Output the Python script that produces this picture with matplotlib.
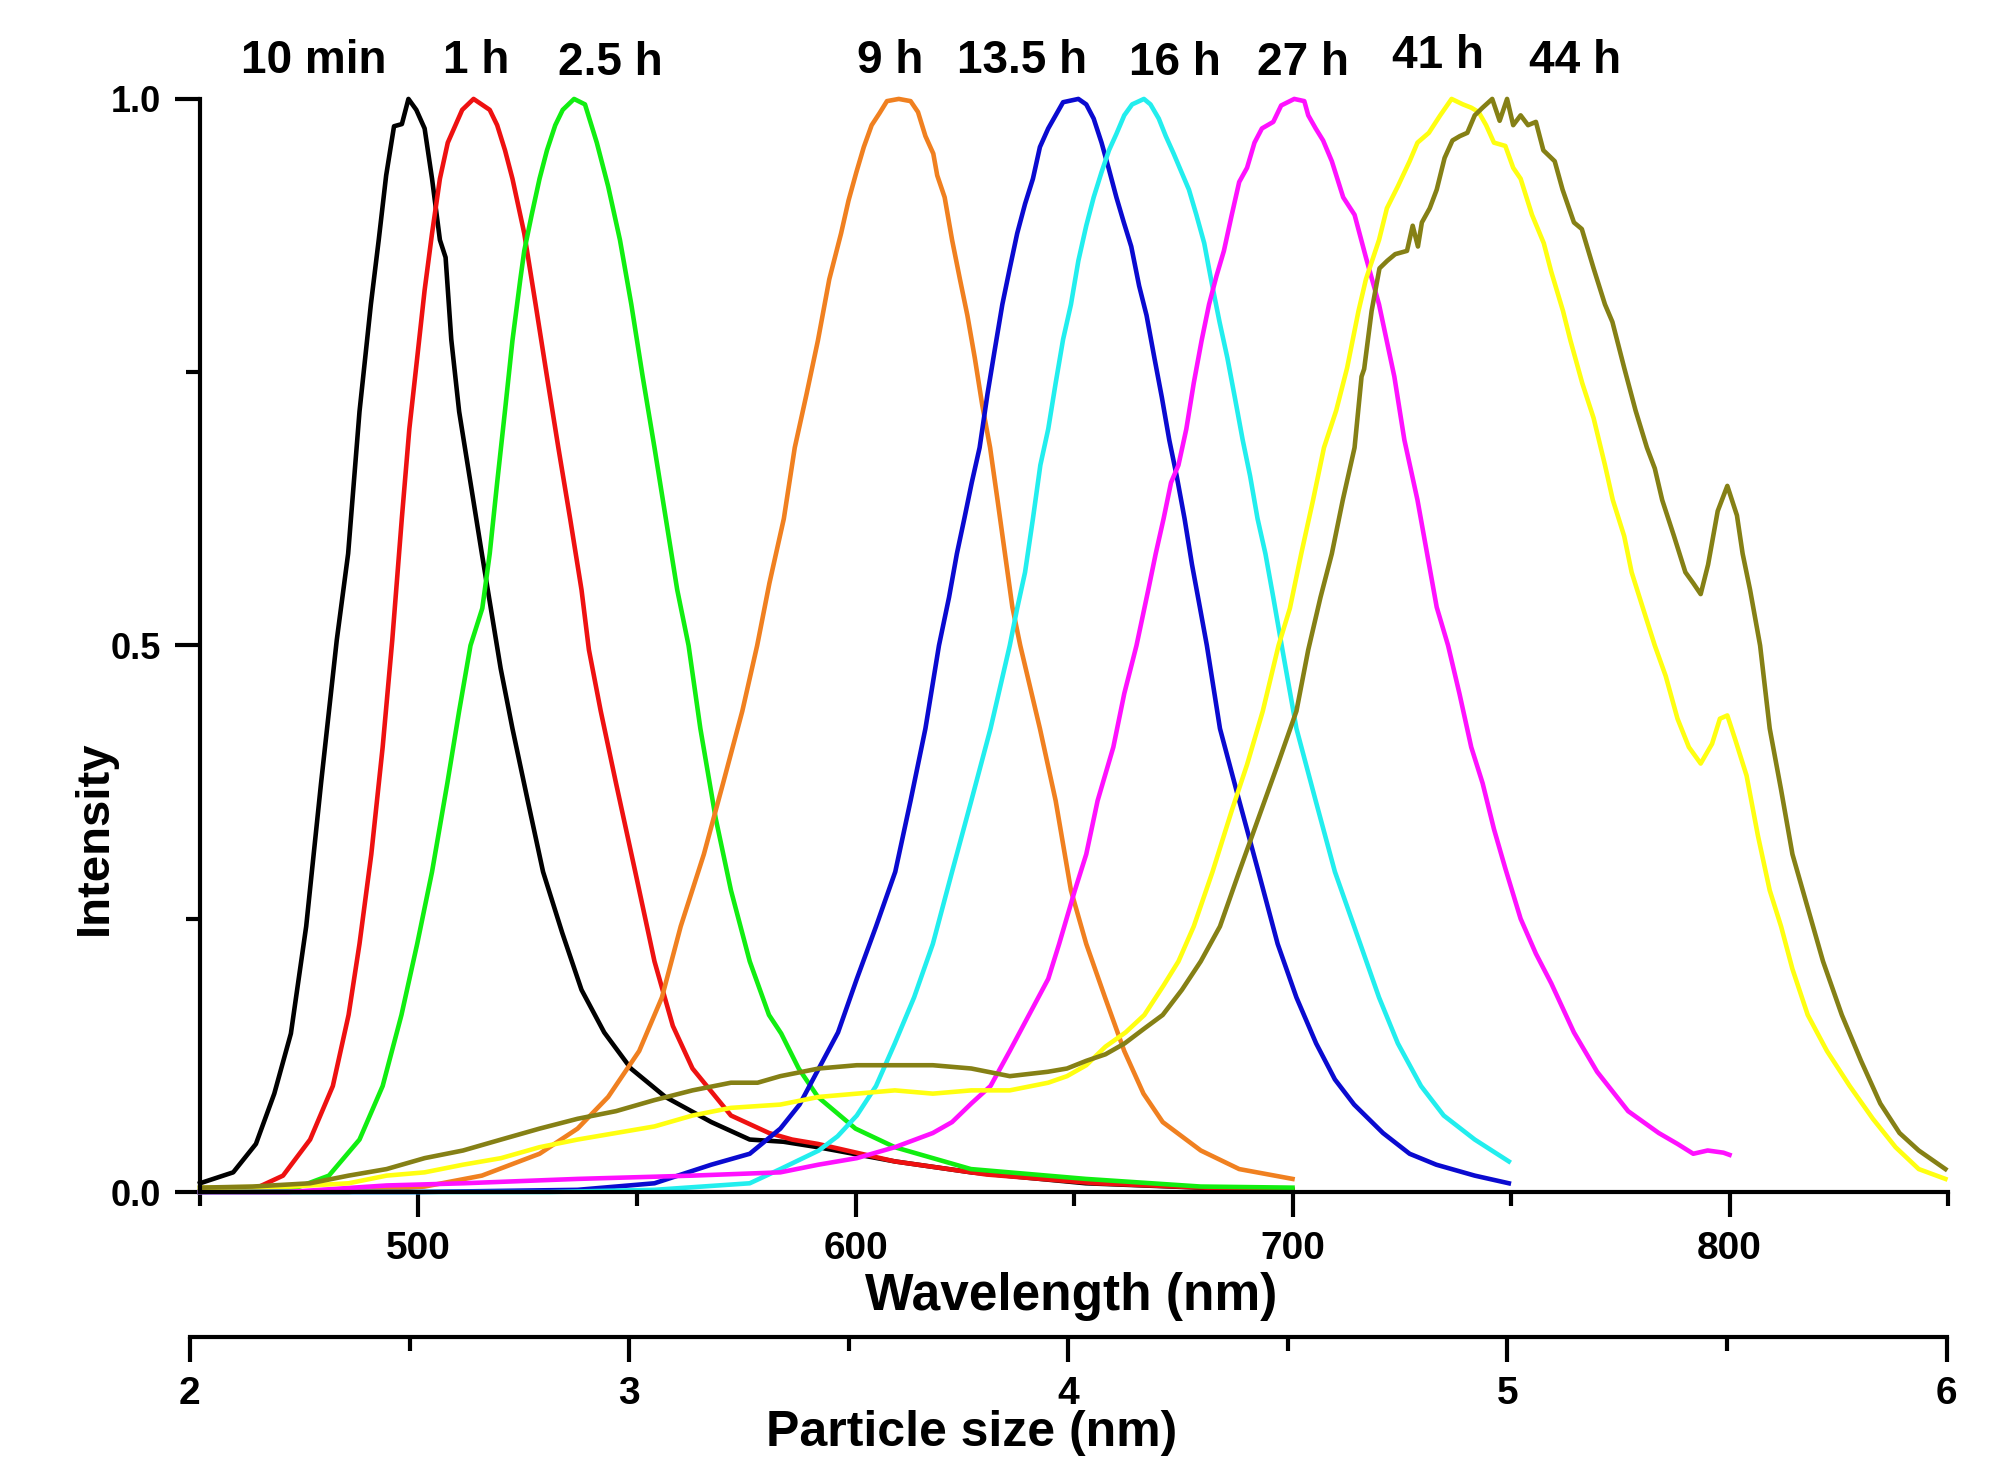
import matplotlib
matplotlib.use("Agg")
import matplotlib.pyplot as plt
from matplotlib.ticker import MultipleLocator, FixedLocator

FAM = ['Liberation Sans Narrow', 'Liberation Sans', 'DejaVu Sans']
plt.rcParams['font.family'] = FAM
plt.rcParams['font.weight'] = 'bold'

# ---------------- data ----------------
labels = ['10 min', '1 h', '2.5 h', '9 h', '13.5 h', '16 h', '27 h', '41 h', '44 h']
label_x = [476, 513.2, 544, 608, 638, 673, 702.3, 733.4, 764.6]
label_y = [1.035, 1.035, 1.033, 1.035, 1.035, 1.033, 1.033, 1.039, 1.035]
colors = ['#000000', '#ee1111', '#11ee11', '#f08020', '#0a0ad0', '#22eeee',
          '#ff11ff', '#ffff11', '#858015']

wl_10min = [450, 457.6, 462.8, 467, 470.8, 474.3, 477.7, 481.3, 483.9, 486.5, 489.1, 490.9, 492.6, 494.4, 496.2,
            497.7, 499.5, 501.4, 503.1, 504.9, 506.2, 507.5, 509.3, 511.9, 514.5, 518.8, 521.5, 525, 528.5, 532.9,
            537.3, 542.5, 548.6, 556.5, 567, 575.8, 583.5, 591.4, 609, 626.5, 652.7, 679, 700]
in_10min = [0.008, 0.018, 0.044, 0.09, 0.145, 0.243, 0.374, 0.505, 0.584, 0.714, 0.812, 0.871, 0.93, 0.975, 0.977,
            1.0, 0.99, 0.973, 0.927, 0.871, 0.855, 0.78, 0.714, 0.649, 0.584, 0.479, 0.424, 0.358, 0.293, 0.237,
            0.185, 0.146, 0.113, 0.087, 0.064, 0.048, 0.046, 0.041, 0.028, 0.018, 0.008, 0.004, 0.002]

wl_1h = [450, 462, 469, 475.2, 480.4, 484, 486.5, 489.2, 491.8, 494, 496.2, 497.9, 499.7, 501.4, 503.1, 504.9,
         506.7, 510, 512.6, 516.3, 518, 519.8, 521.5, 524.2, 526.8, 529.4, 532, 534.7, 537.3, 539, 541.7, 545.2,
         549.6, 554, 558.2, 562.7, 571.5, 580.2, 585.5, 591.4, 609, 630, 655, 680, 700]
in_1h = [0, 0.002, 0.015, 0.048, 0.097, 0.162, 0.227, 0.309, 0.407, 0.505, 0.617, 0.698, 0.763, 0.825, 0.877, 0.927,
         0.96, 0.99, 1.0, 0.99, 0.976, 0.953, 0.927, 0.877, 0.812, 0.746, 0.681, 0.616, 0.551, 0.496, 0.44, 0.374,
         0.293, 0.211, 0.152, 0.113, 0.07, 0.054, 0.048, 0.044, 0.028, 0.016, 0.008, 0.004, 0.002]

wl_2h5 = [450, 470.8, 479.5, 486.5, 491.8, 496.1, 499.7, 503.1, 506.6, 509.3, 511.9, 514.6, 516.3, 518, 519.8,
          521.5, 523.3, 524.2, 525.9, 527.7, 529.4, 531.3, 533, 535.6, 538.1, 540.8, 543.4, 546.1, 548.7, 551.3,
          554, 556.6, 559.2, 561.8, 564.5, 568, 571.5, 575.8, 580.2, 583, 587, 591.4, 600, 609, 626.4, 652.7,
          679, 700]
in_2h5 = [0, 0.002, 0.015, 0.048, 0.097, 0.162, 0.227, 0.293, 0.374, 0.44, 0.5, 0.534, 0.584, 0.649, 0.715,
          0.779, 0.835, 0.861, 0.894, 0.927, 0.953, 0.976, 0.99, 1.0, 0.995, 0.96, 0.92, 0.871, 0.812, 0.746,
          0.681, 0.616, 0.551, 0.5, 0.424, 0.342, 0.276, 0.211, 0.162, 0.145, 0.113, 0.087, 0.058, 0.041, 0.021,
          0.012, 0.005, 0.004]

wl_9h = [450, 484, 501.4, 514.5, 527.7, 536.4, 543.4, 550.5, 555.7, 560, 565.3, 569.7, 574.1, 577.5, 580.3, 583.6,
         586.1, 588.8, 591.4, 594, 596.7, 598.4, 600.2, 601.9, 603.7, 605.5, 607.2, 609.9, 612.6, 614.3, 616,
         617.8, 618.7, 620.4, 622.1, 623.9, 625.6, 627.3, 629, 630.8, 632.5, 634.2, 635.9, 637.7, 642.2, 645.8,
         649.3, 652.8, 657.1, 661.5, 665.9, 670.3, 679, 687.8, 700]
in_9h = [0, 0, 0.005, 0.015, 0.035, 0.058, 0.087, 0.129, 0.178, 0.243, 0.309, 0.374, 0.44, 0.5, 0.557, 0.616,
         0.681, 0.73, 0.779, 0.835, 0.877, 0.907, 0.933, 0.956, 0.976, 0.987, 0.998, 1.0, 0.998, 0.988, 0.966,
         0.95, 0.93, 0.91, 0.871, 0.835, 0.802, 0.763, 0.72, 0.681, 0.633, 0.584, 0.535, 0.5, 0.424, 0.358,
         0.276, 0.227, 0.178, 0.129, 0.09, 0.064, 0.038, 0.021, 0.012]

wl_13h5 = [450, 500, 536.4, 554, 567, 575.8, 582.8, 587.2, 591.6, 596, 600.3, 604.7, 609.1, 612.6, 616, 619.1,
           621.4, 623.2, 624.9, 626.6, 628.4, 630.2, 631.8, 633.6, 635.3, 637, 638.8, 640.6, 642.2, 644.1, 645.8,
           647.5, 651, 652.8, 654.5, 656.3, 657.9, 659.7, 661.4, 663.1, 664.9, 666.6, 668.4, 670.1, 671.8, 673.5,
           675.3, 677, 678.8, 680.4, 683.4, 687.8, 692.2, 696.6, 700.9, 705.4, 709.7, 714.1, 720.7, 726.8, 732.9,
           741.7, 749.5]
in_13h5 = [0, 0, 0.002, 0.008, 0.025, 0.035, 0.058, 0.08, 0.113, 0.146, 0.195, 0.243, 0.293, 0.358, 0.424, 0.5,
           0.544, 0.584, 0.616, 0.649, 0.681, 0.73, 0.769, 0.812, 0.845, 0.877, 0.904, 0.927, 0.956, 0.973, 0.985,
           0.997, 1.0, 0.995, 0.982, 0.96, 0.937, 0.91, 0.887, 0.865, 0.829, 0.802, 0.763, 0.727, 0.688, 0.655,
           0.616, 0.574, 0.535, 0.5, 0.424, 0.358, 0.293, 0.227, 0.178, 0.136, 0.103, 0.08, 0.054, 0.035, 0.025,
           0.015, 0.008]

wl_16h = [450, 530, 554, 575.8, 582.8, 591.6, 595.9, 600.3, 604.7, 609, 613.4, 617.7, 622.1, 626.5, 630.9, 635.3,
          637, 638.8, 640.6, 642.3, 644.1, 645.8, 647.5, 649.3, 651, 652.8, 654.5, 656.3, 658, 659.7, 661.5, 663.3,
          666, 667.5, 669.4, 671, 672.8, 674.6, 676.3, 678, 679.8, 681.5, 683.3, 685.1, 686.8, 688.6, 690.3, 692,
          693.8, 695.6, 697.3, 700.9, 705.3, 709.7, 714.1, 719.8, 724.1, 729.4, 734.6, 741.7, 749.5]
in_16h = [0, 0, 0.002, 0.008, 0.021, 0.038, 0.051, 0.07, 0.097, 0.136, 0.178, 0.227, 0.293, 0.358, 0.424, 0.5,
          0.534, 0.567, 0.616, 0.665, 0.698, 0.74, 0.78, 0.812, 0.852, 0.884, 0.91, 0.933, 0.953, 0.968, 0.985,
          0.995, 1.0, 0.995, 0.982, 0.966, 0.95, 0.933, 0.917, 0.894, 0.868, 0.832, 0.796, 0.763, 0.727, 0.688,
          0.655, 0.616, 0.584, 0.544, 0.505, 0.424, 0.358, 0.293, 0.243, 0.178, 0.136, 0.097, 0.07, 0.048, 0.028]

wl_27h = [450, 470, 492.7, 510.3, 536.4, 562.7, 582.8, 591.5, 600.3, 609, 617.7, 622.1, 626.5, 630.9, 635.3,
          639.7, 644.1, 646.6, 650.2, 652.8, 655.4, 659, 661.5, 664.3, 667, 668.7, 670.5, 672.2, 673.9, 675.7,
          677.4, 679.2, 680.9, 682.6, 684.3, 686.1, 687.8, 689.6, 691.3, 693, 695.6, 697.4, 700.4, 702.7, 703.6,
          705.3, 707, 709, 711.6, 714.2, 716.8, 719.8, 723.3, 725.6, 728.6, 733, 735.6, 738.2, 740.9, 743.5,
          746.1, 748.7, 752.2, 755.7, 759.2, 764.4, 769.7, 776.8, 783.8, 788.1, 791.7, 795, 798.6, 800]
in_27h = [0, 0, 0.006, 0.008, 0.012, 0.015, 0.018, 0.025, 0.031, 0.041, 0.054, 0.064, 0.081, 0.097, 0.129,
          0.162, 0.195, 0.227, 0.276, 0.309, 0.358, 0.407, 0.456, 0.5, 0.551, 0.584, 0.616, 0.649, 0.665, 0.698,
          0.74, 0.779, 0.812, 0.838, 0.861, 0.894, 0.924, 0.937, 0.96, 0.973, 0.979, 0.994, 1.0, 0.998, 0.985,
          0.973, 0.962, 0.943, 0.91, 0.894, 0.855, 0.812, 0.746, 0.688, 0.633, 0.535, 0.5, 0.456, 0.407, 0.374,
          0.332, 0.296, 0.25, 0.218, 0.191, 0.146, 0.11, 0.074, 0.054, 0.044, 0.035, 0.038, 0.036, 0.034]

wl_41h = [450, 470.8, 484, 492.7, 501.4, 510.2, 518.9, 527.7, 536.4, 545.2, 554, 562.7, 571.5, 582.8, 591.6,
          600.3, 609, 617.7, 626.5, 635.3, 644.1, 648.4, 652.8, 657.2, 661.8, 666.1, 670.5, 673.9, 677.4, 681.7,
          686.1, 689.6, 693.2, 696.8, 699.4, 702, 704.7, 707.2, 710, 712.5, 715.1, 716.8, 719.8, 721.6, 724.1,
          726.8, 728.6, 731.2, 733.8, 736.4, 739, 740.9, 742.6, 744.3, 746.1, 748.7, 750.5, 752.2, 754.8, 757.5,
          759.2, 761.9, 763.6, 766.3, 768.9, 771.5, 773.3, 775.9, 777.6, 780.2, 782.9, 785.4, 788.1, 790.7,
          793.4, 796, 797.8, 799.5, 801.3, 803.9, 806.5, 809.2, 811.8, 814.4, 817.9, 822.3, 827.5, 832.8, 838,
          843.3, 849.4]
in_41h = [0.004, 0.005, 0.008, 0.015, 0.018, 0.025, 0.031, 0.041, 0.048, 0.054, 0.06, 0.07, 0.077, 0.08, 0.087,
          0.09, 0.093, 0.09, 0.093, 0.093, 0.1, 0.106, 0.116, 0.133, 0.146, 0.162, 0.189, 0.211, 0.243, 0.293,
          0.349, 0.391, 0.44, 0.5, 0.534, 0.584, 0.633, 0.681, 0.715, 0.754, 0.806, 0.835, 0.871, 0.9, 0.92,
          0.943, 0.96, 0.969, 0.985, 1.0, 0.995, 0.992, 0.988, 0.976, 0.96, 0.957, 0.937, 0.927, 0.894, 0.868,
          0.842, 0.806, 0.779, 0.74, 0.708, 0.665, 0.633, 0.6, 0.567, 0.534, 0.5, 0.472, 0.433, 0.407,
          0.392, 0.41, 0.433, 0.436, 0.414, 0.381, 0.326, 0.276, 0.243, 0.204, 0.162, 0.129, 0.097, 0.067, 0.041,
          0.021, 0.012]

wl_44h = [450, 462, 475.2, 484, 492.7, 501.4, 510.2, 518.9, 527.7, 536.4, 545.2, 553.9, 562.7, 571.5, 577.6,
          582.8, 591.6, 600.3, 609, 617.7, 626.5, 635.3, 644, 648.4, 652.8, 657.2, 661.6, 665.9, 670.3, 674.7,
          679, 683.4, 687.8, 692.2, 696.6, 700.9, 703.6, 706.4, 709, 711.5, 714.2, 715.8, 716.4, 718.1, 719.9,
          721.7, 723.5, 726.2, 727.5, 728.7, 729.6, 731.4, 733, 734.8, 736.6, 738.3, 740, 741.7, 743.5, 745.7,
          747.4, 749.1, 750.5, 752.2, 753.9, 755.7, 757.4, 760, 761.8, 764.4, 766.2, 768.9, 771.5, 773.2, 775.9,
          778.5, 781.1, 782.9, 784.6, 787.3, 789.9, 791.7, 793.4, 795.1, 797.3, 799.5, 801.7, 803, 804.7, 807,
          809.2, 811.8, 814.4, 817.9, 821.4, 825.7, 830.1, 834.5, 838.9, 843.3, 849.4]
in_44h = [0.004, 0.005, 0.008, 0.015, 0.021, 0.031, 0.038, 0.048, 0.058, 0.067, 0.074, 0.084, 0.093, 0.1, 0.1,
          0.106, 0.113, 0.116, 0.116, 0.116, 0.113, 0.106, 0.11, 0.113, 0.12, 0.126, 0.136, 0.149, 0.162, 0.185,
          0.211, 0.243, 0.293, 0.342, 0.391, 0.44, 0.496, 0.544, 0.584, 0.633, 0.681, 0.746, 0.753, 0.806, 0.845,
          0.852, 0.858, 0.861, 0.884, 0.865, 0.887, 0.9, 0.917, 0.946, 0.962, 0.966, 0.969, 0.985, 0.992, 1.0,
          0.98, 1.0, 0.976, 0.985, 0.976, 0.979, 0.953, 0.943, 0.917, 0.887, 0.881, 0.845, 0.812, 0.796, 0.754,
          0.715, 0.681, 0.662, 0.633, 0.6, 0.567, 0.557, 0.547, 0.574, 0.623, 0.646, 0.619, 0.584, 0.551, 0.5,
          0.424, 0.368, 0.309, 0.26, 0.211, 0.162, 0.12, 0.081, 0.054, 0.038, 0.021]

series_wl = [wl_10min, wl_1h, wl_2h5, wl_9h, wl_13h5, wl_16h, wl_27h, wl_41h, wl_44h]
series_in = [in_10min, in_1h, in_2h5, in_9h, in_13h5, in_16h, in_27h, in_41h, in_44h]

wl_ticks = [500, 600, 700, 800]
y_ticks = [0.0, 0.5, 1.0]
size_ticks = [2, 3, 4, 5, 6]

# ---------------- figure ----------------
fig = plt.figure(figsize=(20.12, 14.7), dpi=100)
ax = fig.add_axes([0.0994, 0.1891, 0.8688, 0.7436])

for wl, inten, c in zip(series_wl, series_in, colors):
    ax.plot(wl, inten, color=c, lw=3.3, clip_on=False, solid_joinstyle='round')

ax.set_xlim(450, 850)
ax.set_ylim(0, 1)
for s in ['top', 'right']:
    ax.spines[s].set_visible(False)
for s in ['left', 'bottom']:
    ax.spines[s].set_linewidth(3)

ax.xaxis.set_major_locator(FixedLocator(wl_ticks))
ax.xaxis.set_minor_locator(MultipleLocator(50))
ax.yaxis.set_major_locator(FixedLocator(y_ticks))
ax.yaxis.set_minor_locator(FixedLocator([0.25, 0.75]))
ax.set_yticklabels(['%.1f' % v for v in y_ticks])
ax.tick_params(axis='both', which='major', direction='out', length=18, width=3)
ax.tick_params(axis='both', which='minor', direction='out', length=10, width=3)
ax.tick_params(axis='x', which='major', labelsize=28, pad=10)
ax.tick_params(axis='y', which='major', labelsize=26, pad=10)
for t in ax.get_xticklabels() + ax.get_yticklabels():
    t.set_fontweight('bold')

for lab, lx, ly in zip(labels, label_x, label_y):
    ax.text(lx, ly, lab, ha='center', va='center', fontsize=33, fontweight='bold', clip_on=False)

fig.text(0.5325, 0.118, 'Wavelength (nm)', ha='center', va='center', fontsize=37, fontweight='bold')
fig.text(0.047, 0.43, 'Intensity', ha='center', va='center', rotation=90, fontsize=34, fontweight='bold')

# secondary (particle size) axis
ax2 = fig.add_axes([0.0944, 0.0905, 0.8731, 0.001])
ax2.set_xlim(2, 6)
ax2.set_ylim(0, 1)
ax2.set_yticks([])
for s in ['top', 'right', 'left']:
    ax2.spines[s].set_visible(False)
ax2.spines['bottom'].set_linewidth(3)
ax2.patch.set_visible(False)
ax2.xaxis.set_major_locator(FixedLocator(size_ticks))
ax2.xaxis.set_minor_locator(MultipleLocator(0.5))
ax2.tick_params(axis='x', which='major', direction='out', length=18, width=3, labelsize=28, pad=10)
ax2.tick_params(axis='x', which='minor', direction='out', length=10, width=3)
for t in ax2.get_xticklabels():
    t.set_fontweight('bold')
fig.text(0.4827, 0.025, 'Particle size (nm)', ha='center', va='center', fontsize=36, fontweight='bold')

fig.savefig('out.png', dpi=100)
